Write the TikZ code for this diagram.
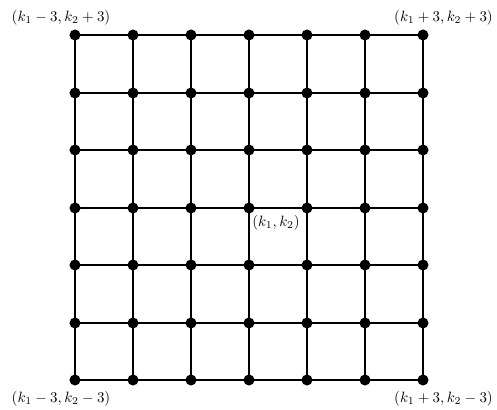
\documentclass[tikz,border=0pt]{standalone}
\begin{document}
\begin{tikzpicture}[x=0.67pt,y=-0.67pt,
  dot/.style={circle,fill=black,draw=none,minimum size=7.4pt,inner sep=0pt},
  edge/.style={line width=1.3pt},
  lbl/.style={inner sep=0pt,font=\normalsize}]
\useasboundingbox (0,0) rectangle (497,410);
\foreach \i in {0,...,6}{
  \foreach \j/\yy in {0/35,1/93,2/150,3/208,4/265,5/323,6/380}{
    \node[dot] (n-\i-\j) at ({75+58*\i},\yy) {};
  }
}
\foreach \i in {0,...,6}{
  \foreach \j [count=\jj from 1] in {0,...,5}{
    \draw[edge] (n-\i-\j.center) -- (n-\i-\jj.center);
    \draw[edge] (n-\j-\i.center) -- (n-\jj-\i.center);
  }
}
\node[lbl] (tl) at (61,18) {$(k_1-3,k_2+3)$};
\node[lbl] (tr) at (443.5,18) {$(k_1+3,k_2+3)$};
\node[lbl] (bl) at (61,399) {$(k_1-3,k_2-3)$};
\node[lbl] (br) at (443.5,399) {$(k_1+3,k_2-3)$};
\node[lbl] (c) at (276,223) {$(k_1,k_2)$};
\end{tikzpicture}
\end{document}
